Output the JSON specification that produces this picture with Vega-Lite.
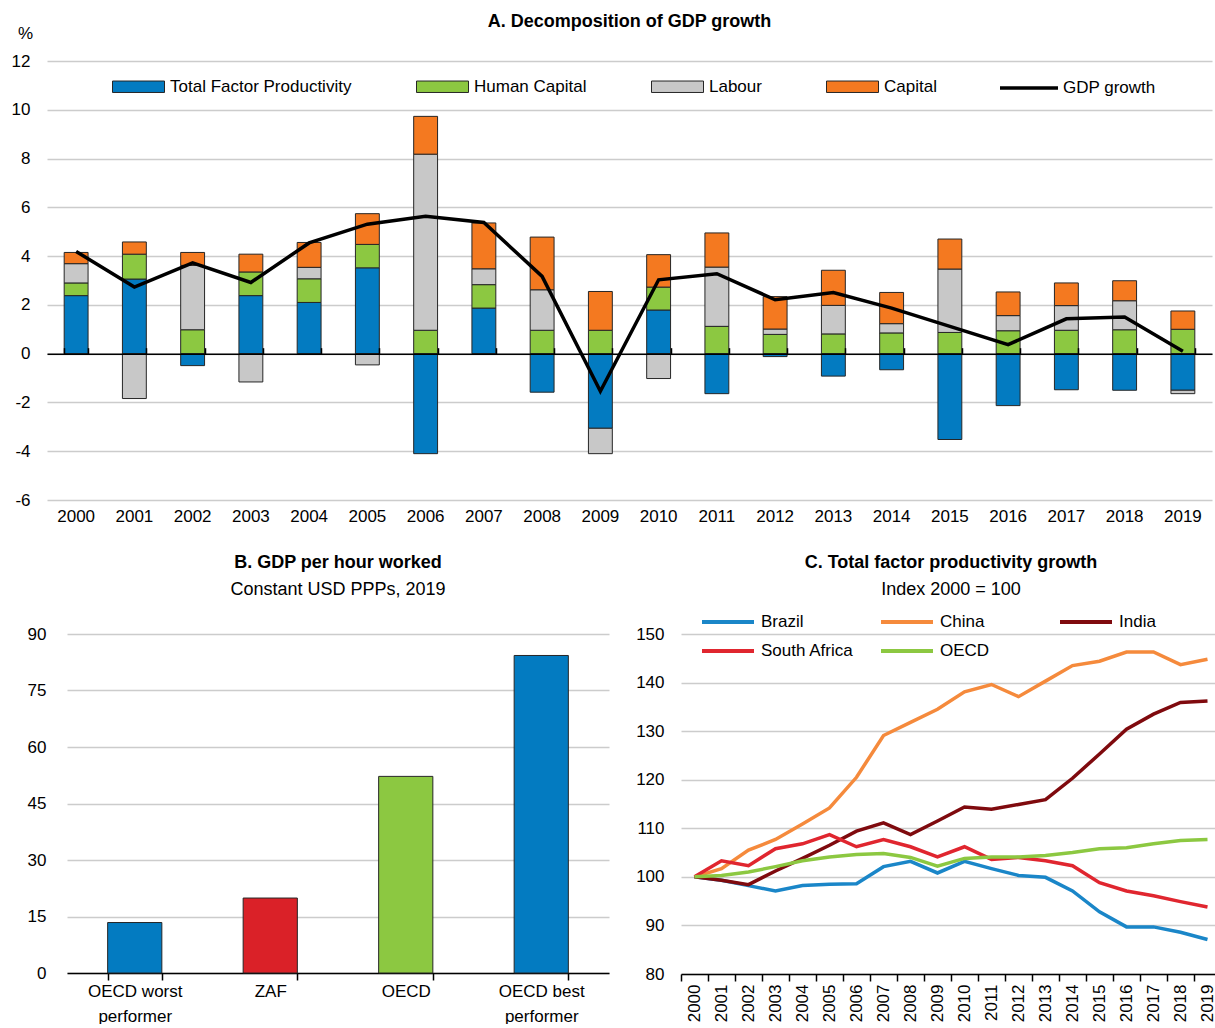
{
  "$schema": "https://vega.github.io/schema/vega-lite/v6.json",
  "padding": {"left": 11, "top": 13, "right": 2, "bottom": 0},
  "config": {
    "font": "Liberation Sans",
    "view": {"stroke": null},
    "axis": {"labelFont": "Liberation Sans", "labelFontSize": 17, "labelColor": "#000", "titleFont": "Liberation Sans", "titleColor": "#000", "gridColor": "#CCCCCC", "gridWidth": 1.5},
    "legend": {"labelFont": "Liberation Sans", "labelFontSize": 17, "labelColor": "#000", "labelLimit": 0},
    "title": {"font": "Liberation Sans", "fontSize": 18, "fontWeight": "bold", "color": "#000", "subtitleFont": "Liberation Sans", "subtitleFontSize": 18, "subtitleColor": "#000", "anchor": "middle"}
  },
  "resolve": {"scale": {"fill": "independent", "color": "independent", "stroke": "independent"}, "legend": {"fill": "independent", "color": "independent", "stroke": "independent"}},
  "datasets": {
    "decomp": [
      {"year": "2000", "component": "Total Factor Productivity", "rank": 1, "value": 2.38},
      {"year": "2000", "component": "Human Capital", "rank": 2, "value": 0.52},
      {"year": "2000", "component": "Labour", "rank": 3, "value": 0.79},
      {"year": "2000", "component": "Capital", "rank": 4, "value": 0.46},
      {"year": "2001", "component": "Total Factor Productivity", "rank": 1, "value": 3.06},
      {"year": "2001", "component": "Human Capital", "rank": 2, "value": 1.02},
      {"year": "2001", "component": "Labour", "rank": 3, "value": -1.84},
      {"year": "2001", "component": "Capital", "rank": 4, "value": 0.50},
      {"year": "2002", "component": "Total Factor Productivity", "rank": 1, "value": -0.49},
      {"year": "2002", "component": "Human Capital", "rank": 2, "value": 0.98},
      {"year": "2002", "component": "Labour", "rank": 3, "value": 2.64},
      {"year": "2002", "component": "Capital", "rank": 4, "value": 0.53},
      {"year": "2003", "component": "Total Factor Productivity", "rank": 1, "value": 2.38},
      {"year": "2003", "component": "Human Capital", "rank": 2, "value": 0.97},
      {"year": "2003", "component": "Labour", "rank": 3, "value": -1.16},
      {"year": "2003", "component": "Capital", "rank": 4, "value": 0.73},
      {"year": "2004", "component": "Total Factor Productivity", "rank": 1, "value": 2.10},
      {"year": "2004", "component": "Human Capital", "rank": 2, "value": 0.97},
      {"year": "2004", "component": "Labour", "rank": 3, "value": 0.47},
      {"year": "2004", "component": "Capital", "rank": 4, "value": 1.02},
      {"year": "2005", "component": "Total Factor Productivity", "rank": 1, "value": 3.52},
      {"year": "2005", "component": "Human Capital", "rank": 2, "value": 0.96},
      {"year": "2005", "component": "Labour", "rank": 3, "value": -0.46},
      {"year": "2005", "component": "Capital", "rank": 4, "value": 1.26},
      {"year": "2006", "component": "Total Factor Productivity", "rank": 1, "value": -4.10},
      {"year": "2006", "component": "Human Capital", "rank": 2, "value": 0.96},
      {"year": "2006", "component": "Labour", "rank": 3, "value": 7.22},
      {"year": "2006", "component": "Capital", "rank": 4, "value": 1.55},
      {"year": "2007", "component": "Total Factor Productivity", "rank": 1, "value": 1.87},
      {"year": "2007", "component": "Human Capital", "rank": 2, "value": 0.96},
      {"year": "2007", "component": "Labour", "rank": 3, "value": 0.65},
      {"year": "2007", "component": "Capital", "rank": 4, "value": 1.88},
      {"year": "2008", "component": "Total Factor Productivity", "rank": 1, "value": -1.58},
      {"year": "2008", "component": "Human Capital", "rank": 2, "value": 0.96},
      {"year": "2008", "component": "Labour", "rank": 3, "value": 1.66},
      {"year": "2008", "component": "Capital", "rank": 4, "value": 2.16},
      {"year": "2009", "component": "Total Factor Productivity", "rank": 1, "value": -3.06},
      {"year": "2009", "component": "Human Capital", "rank": 2, "value": 0.96},
      {"year": "2009", "component": "Labour", "rank": 3, "value": -1.04},
      {"year": "2009", "component": "Capital", "rank": 4, "value": 1.59},
      {"year": "2010", "component": "Total Factor Productivity", "rank": 1, "value": 1.79},
      {"year": "2010", "component": "Human Capital", "rank": 2, "value": 0.94},
      {"year": "2010", "component": "Labour", "rank": 3, "value": -1.02},
      {"year": "2010", "component": "Capital", "rank": 4, "value": 1.33},
      {"year": "2011", "component": "Total Factor Productivity", "rank": 1, "value": -1.64},
      {"year": "2011", "component": "Human Capital", "rank": 2, "value": 1.12},
      {"year": "2011", "component": "Labour", "rank": 3, "value": 2.43},
      {"year": "2011", "component": "Capital", "rank": 4, "value": 1.40},
      {"year": "2012", "component": "Total Factor Productivity", "rank": 1, "value": -0.12},
      {"year": "2012", "component": "Human Capital", "rank": 2, "value": 0.79},
      {"year": "2012", "component": "Labour", "rank": 3, "value": 0.22},
      {"year": "2012", "component": "Capital", "rank": 4, "value": 1.33},
      {"year": "2013", "component": "Total Factor Productivity", "rank": 1, "value": -0.92},
      {"year": "2013", "component": "Human Capital", "rank": 2, "value": 0.81},
      {"year": "2013", "component": "Labour", "rank": 3, "value": 1.17},
      {"year": "2013", "component": "Capital", "rank": 4, "value": 1.44},
      {"year": "2014", "component": "Total Factor Productivity", "rank": 1, "value": -0.66},
      {"year": "2014", "component": "Human Capital", "rank": 2, "value": 0.85},
      {"year": "2014", "component": "Labour", "rank": 3, "value": 0.38},
      {"year": "2014", "component": "Capital", "rank": 4, "value": 1.28},
      {"year": "2015", "component": "Total Factor Productivity", "rank": 1, "value": -3.52},
      {"year": "2015", "component": "Human Capital", "rank": 2, "value": 0.87},
      {"year": "2015", "component": "Labour", "rank": 3, "value": 2.60},
      {"year": "2015", "component": "Capital", "rank": 4, "value": 1.23},
      {"year": "2016", "component": "Total Factor Productivity", "rank": 1, "value": -2.13},
      {"year": "2016", "component": "Human Capital", "rank": 2, "value": 0.94},
      {"year": "2016", "component": "Labour", "rank": 3, "value": 0.62},
      {"year": "2016", "component": "Capital", "rank": 4, "value": 0.97},
      {"year": "2017", "component": "Total Factor Productivity", "rank": 1, "value": -1.48},
      {"year": "2017", "component": "Human Capital", "rank": 2, "value": 0.96},
      {"year": "2017", "component": "Labour", "rank": 3, "value": 1.01},
      {"year": "2017", "component": "Capital", "rank": 4, "value": 0.93},
      {"year": "2018", "component": "Total Factor Productivity", "rank": 1, "value": -1.50},
      {"year": "2018", "component": "Human Capital", "rank": 2, "value": 0.98},
      {"year": "2018", "component": "Labour", "rank": 3, "value": 1.19},
      {"year": "2018", "component": "Capital", "rank": 4, "value": 0.82},
      {"year": "2019", "component": "Total Factor Productivity", "rank": 1, "value": -1.50},
      {"year": "2019", "component": "Human Capital", "rank": 2, "value": 1.00},
      {"year": "2019", "component": "Labour", "rank": 3, "value": -0.14},
      {"year": "2019", "component": "Capital", "rank": 4, "value": 0.75}
    ],
    "gdp": [
      {"year": "2000", "value": 4.19}, {"year": "2001", "value": 2.73}, {"year": "2002", "value": 3.72},
      {"year": "2003", "value": 2.92}, {"year": "2004", "value": 4.54}, {"year": "2005", "value": 5.31},
      {"year": "2006", "value": 5.63}, {"year": "2007", "value": 5.38}, {"year": "2008", "value": 3.17},
      {"year": "2009", "value": -1.54}, {"year": "2010", "value": 3.03}, {"year": "2011", "value": 3.28},
      {"year": "2012", "value": 2.21}, {"year": "2013", "value": 2.51}, {"year": "2014", "value": 1.87},
      {"year": "2015", "value": 1.12}, {"year": "2016", "value": 0.37}, {"year": "2017", "value": 1.43},
      {"year": "2018", "value": 1.50}, {"year": "2019", "value": 0.10}
    ],
    "prod": [
      {"group": "OECD worst performer", "value": 13.4},
      {"group": "ZAF", "value": 19.9},
      {"group": "OECD", "value": 52.2},
      {"group": "OECD best performer", "value": 84.3}
    ],
    "tfp": [
      {"year": "2000", "country": "Brazil", "value": 100.0}, {"year": "2001", "country": "Brazil", "value": 99.3}, {"year": "2002", "country": "Brazil", "value": 98.2}, {"year": "2003", "country": "Brazil", "value": 97.1}, {"year": "2004", "country": "Brazil", "value": 98.2},
      {"year": "2005", "country": "Brazil", "value": 98.5}, {"year": "2006", "country": "Brazil", "value": 98.6}, {"year": "2007", "country": "Brazil", "value": 102.1}, {"year": "2008", "country": "Brazil", "value": 103.2}, {"year": "2009", "country": "Brazil", "value": 100.8},
      {"year": "2010", "country": "Brazil", "value": 103.2}, {"year": "2011", "country": "Brazil", "value": 101.7}, {"year": "2012", "country": "Brazil", "value": 100.3}, {"year": "2013", "country": "Brazil", "value": 99.9}, {"year": "2014", "country": "Brazil", "value": 97.1},
      {"year": "2015", "country": "Brazil", "value": 92.8}, {"year": "2016", "country": "Brazil", "value": 89.7}, {"year": "2017", "country": "Brazil", "value": 89.7}, {"year": "2018", "country": "Brazil", "value": 88.6}, {"year": "2019", "country": "Brazil", "value": 87.1},
      {"year": "2000", "country": "China", "value": 100.0}, {"year": "2001", "country": "China", "value": 101.7}, {"year": "2002", "country": "China", "value": 105.5}, {"year": "2003", "country": "China", "value": 107.7}, {"year": "2004", "country": "China", "value": 110.9},
      {"year": "2005", "country": "China", "value": 114.2}, {"year": "2006", "country": "China", "value": 120.5}, {"year": "2007", "country": "China", "value": 129.1}, {"year": "2008", "country": "China", "value": 131.8}, {"year": "2009", "country": "China", "value": 134.5},
      {"year": "2010", "country": "China", "value": 138.1}, {"year": "2011", "country": "China", "value": 139.6}, {"year": "2012", "country": "China", "value": 137.1}, {"year": "2013", "country": "China", "value": 140.3}, {"year": "2014", "country": "China", "value": 143.5},
      {"year": "2015", "country": "China", "value": 144.4}, {"year": "2016", "country": "China", "value": 146.3}, {"year": "2017", "country": "China", "value": 146.3}, {"year": "2018", "country": "China", "value": 143.7}, {"year": "2019", "country": "China", "value": 144.8},
      {"year": "2000", "country": "India", "value": 100.0}, {"year": "2001", "country": "India", "value": 99.3}, {"year": "2002", "country": "India", "value": 98.4}, {"year": "2003", "country": "India", "value": 101.2}, {"year": "2004", "country": "India", "value": 103.8},
      {"year": "2005", "country": "India", "value": 106.5}, {"year": "2006", "country": "India", "value": 109.4}, {"year": "2007", "country": "India", "value": 111.1}, {"year": "2008", "country": "India", "value": 108.7}, {"year": "2009", "country": "India", "value": 111.5},
      {"year": "2010", "country": "India", "value": 114.4}, {"year": "2011", "country": "India", "value": 113.9}, {"year": "2012", "country": "India", "value": 114.9}, {"year": "2013", "country": "India", "value": 115.9}, {"year": "2014", "country": "India", "value": 120.3},
      {"year": "2015", "country": "India", "value": 125.3}, {"year": "2016", "country": "India", "value": 130.4}, {"year": "2017", "country": "India", "value": 133.5}, {"year": "2018", "country": "India", "value": 135.9}, {"year": "2019", "country": "India", "value": 136.2},
      {"year": "2000", "country": "South Africa", "value": 100.0}, {"year": "2001", "country": "South Africa", "value": 103.3}, {"year": "2002", "country": "South Africa", "value": 102.3}, {"year": "2003", "country": "South Africa", "value": 105.8}, {"year": "2004", "country": "South Africa", "value": 106.8},
      {"year": "2005", "country": "South Africa", "value": 108.7}, {"year": "2006", "country": "South Africa", "value": 106.2}, {"year": "2007", "country": "South Africa", "value": 107.7}, {"year": "2008", "country": "South Africa", "value": 106.2}, {"year": "2009", "country": "South Africa", "value": 104.1},
      {"year": "2010", "country": "South Africa", "value": 106.2}, {"year": "2011", "country": "South Africa", "value": 103.6}, {"year": "2012", "country": "South Africa", "value": 104.0}, {"year": "2013", "country": "South Africa", "value": 103.3}, {"year": "2014", "country": "South Africa", "value": 102.3},
      {"year": "2015", "country": "South Africa", "value": 98.8}, {"year": "2016", "country": "South Africa", "value": 97.1}, {"year": "2017", "country": "South Africa", "value": 96.1}, {"year": "2018", "country": "South Africa", "value": 94.9}, {"year": "2019", "country": "South Africa", "value": 93.8},
      {"year": "2000", "country": "OECD", "value": 100.0}, {"year": "2001", "country": "OECD", "value": 100.3}, {"year": "2002", "country": "OECD", "value": 101.0}, {"year": "2003", "country": "OECD", "value": 102.1}, {"year": "2004", "country": "OECD", "value": 103.3},
      {"year": "2005", "country": "OECD", "value": 104.1}, {"year": "2006", "country": "OECD", "value": 104.6}, {"year": "2007", "country": "OECD", "value": 104.8}, {"year": "2008", "country": "OECD", "value": 104.0}, {"year": "2009", "country": "OECD", "value": 102.2},
      {"year": "2010", "country": "OECD", "value": 103.8}, {"year": "2011", "country": "OECD", "value": 104.1}, {"year": "2012", "country": "OECD", "value": 104.1}, {"year": "2013", "country": "OECD", "value": 104.4}, {"year": "2014", "country": "OECD", "value": 105.0},
      {"year": "2015", "country": "OECD", "value": 105.8}, {"year": "2016", "country": "OECD", "value": 106.0}, {"year": "2017", "country": "OECD", "value": 106.8}, {"year": "2018", "country": "OECD", "value": 107.5}, {"year": "2019", "country": "OECD", "value": 107.7}
    ]
  },
  "spacing": 30,
  "vconcat": [
    {
      "width": 1165,
      "height": 439,
      "title": {"text": "A. Decomposition of GDP growth", "offset": -7},
      "resolve": {"axis": {"x": "independent"}},
      "layer": [
        {
          "data": {"name": "decomp"},
          "mark": {"type": "bar", "stroke": "#262626", "strokeWidth": 1},
          "encoding": {
            "x": {"field": "year", "type": "ordinal", "title": null,
              "scale": {"paddingInner": 0.59, "paddingOuter": 0.295},
              "axis": {"labelAngle": 0, "domain": false, "ticks": false, "labelPadding": 8, "grid": false}},
            "y": {"field": "value", "type": "quantitative", "stack": "zero", "title": "%",
              "scale": {"domain": [-6, 12], "nice": false},
              "axis": {"values": [-6, -4, -2, 0, 2, 4, 6, 8, 10, 12], "labelExpr": "toString(datum.value)", "titleAngle": 0, "titleX": -22, "titleY": -28, "titleAlign": "center", "titleBaseline": "middle", "titleFontWeight": "normal", "titleFontSize": 17, "domain": false, "ticks": false, "labelPadding": 17, "grid": true}},
            "fill": {"field": "component", "type": "nominal",
              "scale": {"domain": ["Total Factor Productivity", "Human Capital", "Labour", "Capital"], "range": ["#037BC1", "#8CC841", "#C8C8C8", "#F47920"]},
              "legend": {"title": null, "orient": "none", "legendX": 65, "legendY": -1, "direction": "horizontal", "columns": 4, "columnPadding": 62, "symbolType": "M-1,-0.22L1,-0.22L1,0.22L-1,0.22Z", "symbolSize": 2704, "symbolStrokeColor": "#262626", "symbolStrokeWidth": 1, "symbolOpacity": 1, "labelOffset": 5}},
            "order": {"field": "rank", "type": "quantitative"}
          }
        },
        {
          "data": {"name": "gdp"},
          "mark": {"type": "line", "strokeWidth": 3.5},
          "encoding": {
            "x": {"field": "year", "type": "ordinal", "title": null, "bandPosition": 0.5,
              "axis": {"orient": "bottom", "offset": -146.33, "labels": false, "domain": true, "domainColor": "#000", "domainWidth": 1.5, "ticks": true, "tickBand": "extent", "tickSize": -6, "tickColor": "#000", "tickWidth": 1.5, "grid": false, "zindex": 1}},
            "y": {"field": "value", "type": "quantitative", "title": "%"},
            "stroke": {"datum": "GDP growth", "scale": {"domain": ["GDP growth"], "range": ["#000000"]},
              "legend": {"title": null, "orient": "none", "legendX": 951, "legendY": -4, "symbolType": "stroke", "symbolSize": 3364, "symbolStrokeWidth": 3.5, "labelOffset": 3}}
          }
        }
      ]
    },
    {
      "spacing": 26,
      "resolve": {"scale": {"fill": "independent", "color": "independent"}, "legend": {"fill": "independent", "color": "independent"}},
      "hconcat": [
        {
          "spacing": -59,
          "hconcat": [
            {
              "width": 0,
              "height": 339,
              "data": {"values": []},
              "mark": "point"
            },
            {
              "width": 542,
              "height": 339,
              "title": {"text": "B. GDP per hour worked", "subtitle": "Constant USD PPPs, 2019", "offset": 26, "subtitlePadding": 9},
              "data": {"name": "prod"},
              "mark": {"type": "bar", "stroke": "#262626", "strokeWidth": 1},
              "encoding": {
                "x": {"field": "group", "type": "nominal", "sort": null, "title": null,
                  "scale": {"paddingInner": 0.6, "paddingOuter": 0.3},
                  "axis": {"labelAngle": 0, "domainColor": "#000", "domainWidth": 1.5, "tickBand": "extent", "tickColor": "#000", "tickWidth": 1.5, "tickSize": 7, "labelPadding": 3, "labelLineHeight": 25,
                    "labelExpr": "datum.value == 'OECD worst performer' ? ['OECD worst', 'performer'] : datum.value == 'OECD best performer' ? ['OECD best', 'performer'] : datum.value"}},
                "y": {"field": "value", "type": "quantitative", "title": null,
                  "scale": {"domain": [0, 90], "nice": false},
                  "axis": {"values": [0, 15, 30, 45, 60, 75, 90], "domain": false, "ticks": false, "labelPadding": 21, "minExtent": 43}},
                "fill": {"field": "group", "type": "nominal",
                  "scale": {"domain": ["OECD worst performer", "ZAF", "OECD", "OECD best performer"], "range": ["#037BC1", "#DA2128", "#8CC841", "#037BC1"]},
                  "legend": null}
              }
            }
          ]
        },
        {
          "width": 540,
          "height": 340,
          "title": {"text": "C. Total factor productivity growth", "subtitle": "Index 2000 = 100", "offset": 8, "subtitlePadding": 9},
          "data": {"name": "tfp"},
          "mark": {"type": "line", "strokeWidth": 3.5},
          "encoding": {
            "x": {"field": "year", "type": "ordinal", "title": null, "bandPosition": 0.5,
              "scale": {"type": "band", "paddingInner": 0, "paddingOuter": 0},
              "axis": {"labelAngle": -90, "domainColor": "#000", "domainWidth": 1.5, "tickBand": "extent", "tickColor": "#000", "tickWidth": 1.5, "tickSize": 7, "labelPadding": 3, "labelFontSize": 17}},
            "y": {"field": "value", "type": "quantitative", "title": null,
              "scale": {"domain": [80, 150], "nice": false},
              "axis": {"values": [80, 90, 100, 110, 120, 130, 140, 150], "domain": false, "ticks": false, "labelPadding": 17}},
            "color": {"field": "country", "type": "nominal",
              "scale": {"domain": ["Brazil", "China", "India", "South Africa", "OECD"], "range": ["#1A86C8", "#F58A3C", "#7F0A0E", "#E0262F", "#8CC841"]},
              "legend": {"title": null, "orient": "none", "legendX": 19, "legendY": -27, "direction": "horizontal", "columns": 3, "gridAlign": "all", "columnPadding": 19, "rowPadding": 6, "symbolType": "M-1,0L3,0", "symbolSize": 676, "symbolStrokeWidth": 4, "labelOffset": 31}}
          }
        }
      ]
    }
  ]
}
